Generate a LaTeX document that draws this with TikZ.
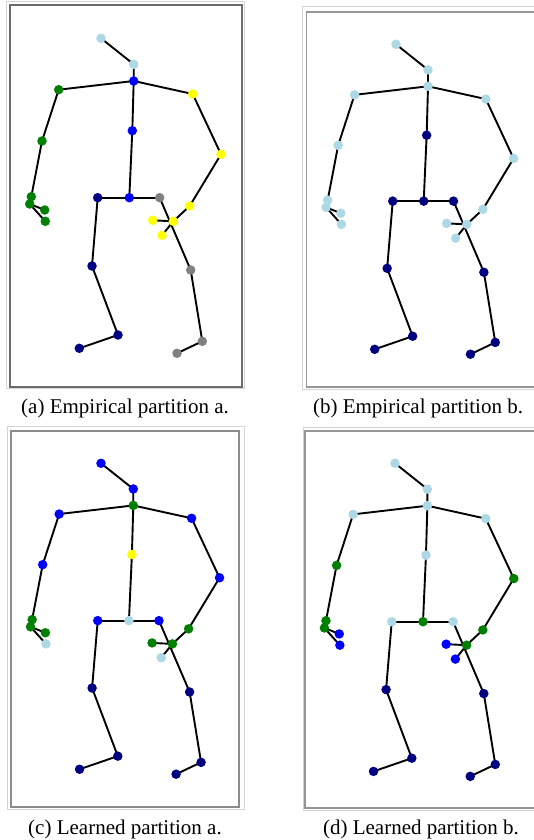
\documentclass[tikz,border=0pt]{standalone}
\usepackage{fontspec}
\setmainfont{Liberation Serif}
\definecolor{cblue}{RGB}{0,0,255}
\definecolor{cnavy}{RGB}{0,0,128}
\definecolor{cgreen}{RGB}{0,128,0}
\definecolor{cyellow}{RGB}{255,255,0}
\definecolor{cgray}{RGB}{128,128,128}
\definecolor{clb}{RGB}{173,216,230}
\definecolor{frlight}{RGB}{212,212,212}
\definecolor{frA}{RGB}{108,108,108}
\definecolor{frB}{RGB}{150,150,150}
\definecolor{frC}{RGB}{140,140,140}
\tikzset{
  bone/.style={line width=1.9pt, draw=black, line cap=round},
  joint/.style={circle, inner sep=0pt, minimum size=9.5pt, fill=#1, draw=none},
  frameout/.style={draw=frlight, line width=1pt},
  framein/.style={line width=1.3pt, draw=#1},
  captxt/.style={font=\fontsize{21}{25}\selectfont, inner sep=0pt},
}
\newcommand\setc[2]{\foreach \j in {#1}{\expandafter\xdef\csname col\j\endcsname{#2}}}
\newcommand\skeleton[1]{%
  \coordinate (#1ht) at (101,38.3);
  \coordinate (#1nk) at (133.7,64.3);
  \coordinate (#1ss) at (133.7,81);
  \coordinate (#1sm) at (132.3,130.7);
  \coordinate (#1sb) at (129.3,197.7);
  \coordinate (#1hpl) at (97.7,197.7);
  \coordinate (#1knl) at (92,266);
  \coordinate (#1anl) at (118,335);
  \coordinate (#1ftl) at (79.3,348.3);
  \coordinate (#1hpr) at (159.7,197.7);
  \coordinate (#1knr) at (190.7,270);
  \coordinate (#1anr) at (202.3,341.3);
  \coordinate (#1ftr) at (177,353.3);
  \coordinate (#1shl) at (58.7,89.7);
  \coordinate (#1ell) at (42,141);
  \coordinate (#1wrl) at (31.3,196.7);
  \coordinate (#1hal) at (29.7,204);
  \coordinate (#1thl) at (44.7,210);
  \coordinate (#1til) at (45.3,221.3);
  \coordinate (#1shr) at (192.7,94);
  \coordinate (#1elr) at (221,154.3);
  \coordinate (#1wrr) at (189.7,206);
  \coordinate (#1har) at (173.3,221.3);
  \coordinate (#1thr) at (152.7,220.3);
  \coordinate (#1tir) at (162,235.3);
  \draw[bone] (#1ht) -- (#1nk) -- (#1ss) -- (#1sm) -- (#1sb);
  \draw[bone] (#1ss) -- (#1shl) -- (#1ell) -- (#1wrl) -- (#1hal) -- (#1til);
  \draw[bone] (#1hal) -- (#1thl);
  \draw[bone] (#1ss) -- (#1shr) -- (#1elr) -- (#1wrr) -- (#1har) -- (#1tir);
  \draw[bone] (#1har) -- (#1thr);
  \draw[bone] (#1hpl) -- (#1sb) -- (#1hpr);
  \draw[bone] (#1hpl) -- (#1knl) -- (#1anl) -- (#1ftl);
  \draw[bone] (#1hpr) -- (#1knr) -- (#1anr) -- (#1ftr);
  \foreach \j in {ht,nk,ss,sm,sb,hpl,knl,anl,ftl,hpr,knr,anr,ftr,shl,ell,wrl,hal,thl,til,shr,elr,wrr,har,thr,tir}{%
    \edef\jcol{\csname col\j\endcsname}%
    \node[joint=\jcol] (#1\j-d) at (#1\j) {};}
}
\begin{document}
\begin{tikzpicture}[x=1pt,y=-1pt]
\useasboundingbox[fill=white] (0,0) rectangle (533,840);
% frames
\draw[frameout] (6,1.5) rectangle (244.5,388.5);
\draw[framein=frA] (10,5) rectangle (242,387);
\draw[frameout] (302,7) rectangle (545,389);
\draw[framein=frB] (306.5,12) rectangle (545,387);
\draw[frameout] (7,426) rectangle (244,809);
\draw[framein=frC] (11,431) rectangle (239,807);
\draw[frameout] (303,427) rectangle (545,810);
\draw[framein=frB] (305,431) rectangle (545,808);
% (a)
\setc{ht,nk}{clb}
\setc{ss,sm,sb}{cblue}
\setc{hpl,knl,anl,ftl}{cnavy}
\setc{hpr,knr,anr,ftr}{cgray}
\setc{shl,ell,wrl,hal,thl,til}{cgreen}
\setc{shr,elr,wrr,har,thr,tir}{cyellow}
\begin{scope}
\skeleton{a}
\end{scope}
% (b)
\setc{ht,nk,ss,shl,ell,wrl,hal,thl,til,shr,elr,wrr,har,thr,tir}{clb}
\setc{sm,sb,hpl,knl,anl,ftl,hpr,knr,anr,ftr}{cnavy}
\begin{scope}[shift={(297,6.6)},xscale=0.98,yscale=0.984]
\skeleton{b}
\end{scope}
% (c)
\setc{ht,nk,hpl,hpr,shl,ell,shr,elr}{cblue}
\setc{ss,wrl,hal,thl,wrr,har,thr}{cgreen}
\setc{sm}{cyellow}
\setc{sb,til,tir}{clb}
\setc{knl,anl,ftl,knr,anr,ftr}{cnavy}
\begin{scope}[shift={(1.2,425.5)},xscale=0.988,yscale=0.987]
\skeleton{c}
\end{scope}
% (d)
\setc{ht,nk,ss,sm,hpl,hpr,shl,shr}{clb}
\setc{sb,ell,wrl,hal,elr,wrr,har}{cgreen}
\setc{thl,til,thr,tir}{cblue}
\setc{knl,anl,ftl,knr,anr,ftr}{cnavy}
\begin{scope}[shift={(295,425.2)},xscale=0.99,yscale=0.994]
\skeleton{d}
\end{scope}
% captions
\node[captxt] (capa) at (125,408) {(a) Empirical partition a.};
\node[captxt] (capb) at (418,408) {(b) Empirical partition b.};
\node[captxt] (capc) at (125,829) {(c) Learned partition a.};
\node[captxt] (capd) at (421,829) {(d) Learned partition b.};
\end{tikzpicture}
\end{document}
